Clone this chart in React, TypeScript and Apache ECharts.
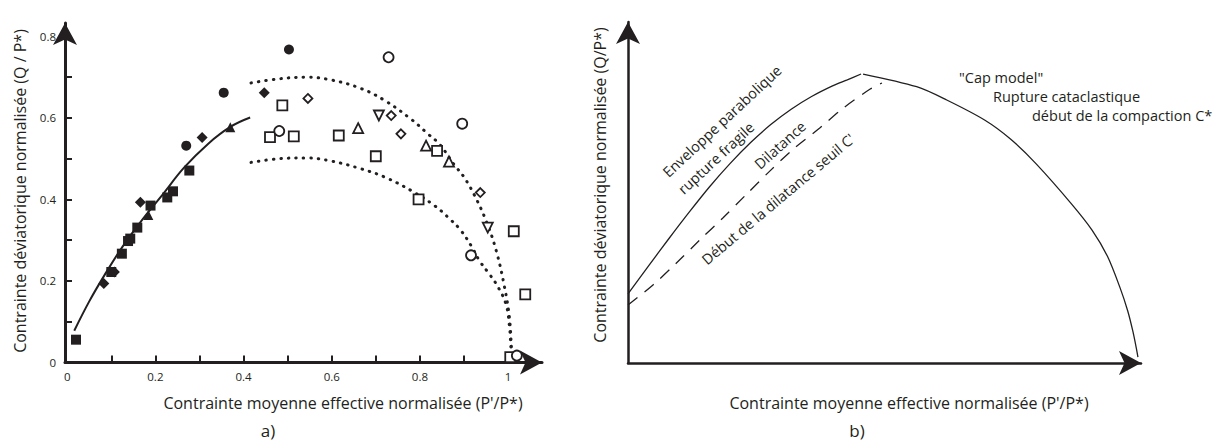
import React, { useEffect, useRef } from "react";
import * as echarts from "echarts";

// ---------- Panel a) data (P'/P*, Q/P*) ----------
const filledCircles = [[0.503, 0.768], [0.355, 0.662], [0.27, 0.532]];
const filledSquares = [
  [0.02, 0.056], [0.1, 0.222], [0.124, 0.267], [0.138, 0.298], [0.143, 0.304],
  [0.159, 0.331], [0.189, 0.385], [0.227, 0.405], [0.24, 0.42], [0.277, 0.471],
];
const filledDiamonds = [[0.083, 0.194], [0.107, 0.222], [0.166, 0.393], [0.306, 0.552], [0.447, 0.662]];
const filledTriangles = [[0.184, 0.362], [0.37, 0.577]];
const openSquares = [
  [0.488, 0.631], [0.46, 0.553], [0.514, 0.555], [0.616, 0.557], [0.7, 0.506],
  [0.839, 0.519], [0.797, 0.4], [1.013, 0.322], [1.039, 0.167], [1.005, 0.013],
];
const openCircles = [[0.481, 0.568], [0.729, 0.749], [0.896, 0.586], [0.916, 0.263], [1.02, 0.017]];
const openDiamonds = [[0.546, 0.648], [0.735, 0.606], [0.757, 0.561], [0.937, 0.417]];
const openTriangles = [[0.66, 0.575], [0.814, 0.532], [0.866, 0.493]];
const openInvTriangles = [[0.707, 0.606], [0.954, 0.331]];

const solidCurveA = [
  [0.016, 0.078], [0.05, 0.15], [0.085, 0.215], [0.126, 0.285], [0.17, 0.35],
  [0.215, 0.41], [0.265, 0.478], [0.32, 0.537], [0.37, 0.578], [0.415, 0.601],
];
const upperDotted = [
  [0.417, 0.686], [0.48, 0.696], [0.54, 0.7], [0.6, 0.693], [0.667, 0.672],
  [0.72, 0.643], [0.78, 0.597], [0.818, 0.561], [0.845, 0.535], [0.878, 0.485],
  [0.9, 0.455], [0.924, 0.41], [0.95, 0.348], [0.973, 0.275], [0.992, 0.185],
  [1.003, 0.111], [1.008, 0.03], [1.01, 0.0],
];
const lowerDotted = [
  [0.417, 0.491], [0.48, 0.5], [0.54, 0.502], [0.6, 0.494], [0.667, 0.475],
  [0.72, 0.455], [0.78, 0.422], [0.833, 0.385], [0.87, 0.35], [0.893, 0.324],
  [0.916, 0.287], [0.935, 0.25], [0.954, 0.222], [0.973, 0.193], [0.995, 0.144],
  [1.003, 0.09], [1.007, 0.03], [1.01, 0.0],
];

const xTicksA = [0.1, 0.2, 0.3, 0.4, 0.5, 0.6, 0.7, 0.8, 0.9, 1.0];
const xLabelsA = [0, 0.2, 0.4, 0.6, 0.8, 1];
const yTicksA = [0.1, 0.2, 0.3, 0.4, 0.5, 0.6, 0.7, 0.8];
const yLabelsA = [0, 0.2, 0.4, 0.6, 0.8];

// ---------- Panel b) schematic curves (normalised) ----------
const envelopeB = [
  [0, 0.239], [0.04, 0.335], [0.08, 0.43], [0.12, 0.522], [0.16, 0.61],
  [0.2, 0.69], [0.24, 0.762], [0.28, 0.825], [0.32, 0.878], [0.36, 0.922],
  [0.4, 0.958], [0.43, 0.98], [0.457, 1.0],
];
const capB = [
  [0.461, 1.0], [0.566, 0.956], [0.625, 0.91], [0.7, 0.84], [0.75, 0.775],
  [0.8, 0.69], [0.87, 0.55], [0.91, 0.46], [0.94, 0.37], [0.965, 0.26],
  [0.98, 0.18], [0.99, 0.11], [0.997, 0.05], [1.0, 0.02],
];
const dilatancyB = [
  [0, 0.201], [0.049, 0.27], [0.095, 0.346], [0.141, 0.426], [0.186, 0.502],
  [0.233, 0.585], [0.278, 0.664], [0.324, 0.74], [0.376, 0.813], [0.422, 0.882],
  [0.475, 0.948], [0.498, 0.969],
];

const ink = "#231f20";
const FONT = '"Open Sans", "Noto Sans", sans-serif';

const fmt = (v: number) => String(Math.round(v * 10) / 10);

function scatter(data: number[][], symbol: string, size: number, filled: boolean, rotate = 0) {
  return {
    type: "scatter",
    xAxisIndex: 0,
    yAxisIndex: 0,
    data,
    symbol,
    symbolSize: size,
    symbolRotate: rotate,
    itemStyle: filled
      ? { color: ink, opacity: 1 }
      : { color: "#ffffff", borderColor: ink, borderWidth: 1.8, opacity: 1 },
    z: 5,
    silent: true,
  };
}

function line(data: number[][], idx: number, lineStyle: any, smooth = 0.4) {
  return {
    type: "line",
    xAxisIndex: idx,
    yAxisIndex: idx,
    data,
    symbol: "none",
    showSymbol: false,
    smooth,
    lineStyle: { color: ink, ...lineStyle },
    z: 3,
    silent: true,
  };
}

function txt(text: string, x: number, y: number, size: number, rotationDeg = 0, align = "center") {
  return {
    type: "text",
    x,
    y,
    rotation: (rotationDeg * Math.PI) / 180,
    silent: true,
    style: {
      text,
      fill: ink,
      font: `${size}px ${FONT}`,
      align,
      verticalAlign: "middle",
      textAlign: align,
      textVerticalAlign: "middle",
    },
  };
}

export default function App() {
  const ref = useRef<HTMLDivElement>(null);
  useEffect(() => {
    if (!ref.current) return;
    const chart = echarts.init(ref.current, null, { renderer: "svg" });
    const arrowAxis = (width: number) => ({
      show: true,
      onZero: false,
      symbol: ["none", "arrow"],
      symbolSize: [18, 22],
      lineStyle: { color: ink, width },
    });
    chart.setOption({
      animation: false,
      backgroundColor: "#ffffff",
      grid: [
        { left: 65, top: 23, width: 477, height: 339.5 },
        { left: 628, top: 22, width: 513, height: 341 },
      ],
      xAxis: [
        {
          gridIndex: 0,
          type: "value",
          min: -0.005,
          max: 1.077,
          axisLine: arrowAxis(3),
          axisTick: { show: true, inside: true, length: 7, lineStyle: { color: ink, width: 2 }, customValues: xTicksA },
          axisLabel: { show: true, customValues: xLabelsA, formatter: fmt, color: ink, fontSize: 11.5, fontFamily: FONT, margin: 8 },
          splitLine: { show: false },
        },
        {
          gridIndex: 1,
          type: "value",
          min: 0,
          max: 1.006,
          axisLine: arrowAxis(2.5),
          axisTick: { show: false },
          axisLabel: { show: false },
          splitLine: { show: false },
        },
      ],
      yAxis: [
        {
          gridIndex: 0,
          type: "value",
          min: 0,
          max: 0.833,
          axisLine: arrowAxis(3),
          axisTick: { show: true, inside: true, length: 7, lineStyle: { color: ink, width: 2 }, customValues: yTicksA },
          axisLabel: { show: true, customValues: yLabelsA, formatter: fmt, color: ink, fontSize: 11.5, fontFamily: FONT, margin: 9 },
          splitLine: { show: false },
        },
        {
          gridIndex: 1,
          type: "value",
          min: 0,
          max: 1.18,
          axisLine: arrowAxis(2.5),
          axisTick: { show: false },
          axisLabel: { show: false },
          splitLine: { show: false },
        },
      ],
      series: [
        line(solidCurveA, 0, { width: 2 }),
        line(upperDotted, 0, { width: 3, type: [0.5, 7], cap: "round" }),
        line(lowerDotted, 0, { width: 3, type: [0.5, 7], cap: "round" }),
        scatter(filledCircles, "circle", 10, true),
        scatter(filledSquares, "rect", 10, true),
        scatter(filledDiamonds, "diamond", 11, true),
        scatter(filledTriangles, "triangle", 10, true),
        scatter(openSquares, "rect", 10, false),
        scatter(openCircles, "circle", 10, false),
        scatter(openDiamonds, "diamond", 9, false),
        scatter(openTriangles, "triangle", 10, false),
        scatter(openInvTriangles, "triangle", 10, false, 180),
        line(envelopeB, 1, { width: 1.3 }, 0.3),
        line(capB, 1, { width: 1.3 }, 0.3),
        line(dilatancyB, 1, { width: 1.3, type: [12, 9] }, 0.3),
      ],
      graphic: [
        txt("Contrainte déviatorique normalisée (Q / P*)", 20, 191, 16, 90),
        txt("Contrainte moyenne effective normalisée (P'/P*)", 343, 403, 16),
        txt("a)", 268, 430, 17),
        txt("Contrainte déviatorique normalisée (Q/P*)", 600, 185, 16, 90),
        txt("Contrainte moyenne effective normalisée (P'/P*)", 909, 403, 16),
        txt("b)", 857, 430, 17),
        txt("Enveloppe parabolique", 722, 121, 14.5, 43),
        txt("rupture fragile", 716, 158, 14.5, 43),
        txt("Dilatance", 780, 145, 14.5, 42),
        txt("Début de la dilatance seuil C'", 778, 199, 14.5, 40),
        txt('"Cap model"', 959, 77, 14.5, 0, "left"),
        txt("Rupture cataclastique", 993, 96, 14.5, 0, "left"),
        txt("début de la compaction C*", 1032, 115, 14.5, 0, "left"),
      ],
    });
    return () => chart.dispose();
  }, []);
  return (
    <div
      ref={ref}
      style={{ position: "fixed", left: 0, top: 0, width: 1215, height: 443, background: "#fff" }}
    />
  );
}
